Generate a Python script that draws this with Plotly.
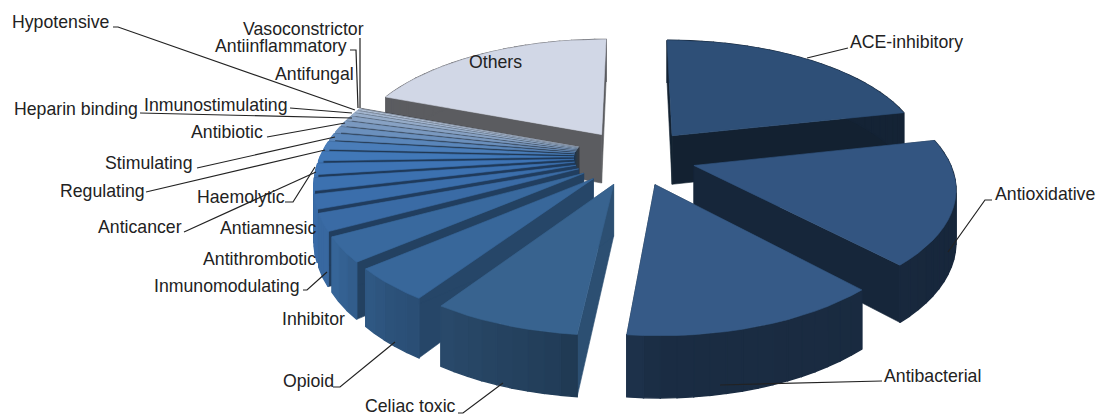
import math
import plotly.graph_objects as go

categories = ["ACE-inhibitory", "Antioxidative", "Antibacterial", "Celiac toxic", "Opioid", "Inhibitor",
              "Inmunomodulating", "Antithrombotic", "Antiamnesic", "Anticancer", "Haemolytic", "Regulating",
              "Stimulating", "Antibiotic", "Heparin binding", "Inmunostimulating", "Hypotensive", "Antifungal",
              "Antiinflammatory", "Vasoconstrictor", "Others"]
values = [21.5, 16.55, 13.5, 7.7, 4.4, 3.3, 2.3, 1.9, 1.7, 1.5, 1.3, 1.1, 0.9, 0.8, 0.7, 0.6, 0.4, 0.3, 0.2, 0.1, 19.1]
top_colors = ["#2E4F77", "#335581", "#365A87", "#38638F", "#38679A", "#39699E", "#3A6BA5", "#3B6EAB", "#3C71B0",
              "#3E74B5", "#4178B8", "#4A7DB9", "#5A86BA", "#6B90BD", "#7A99C0", "#88A2C4", "#96ACC9", "#A3B5CE",
              "#AFBED3", "#BAC6D9", "#D1D7E6"]
wall_shades = [0.42, 0.45, 0.48, 0.8, 0.68, 0.62, 0.58, 0.55, 0.52, 0.5, 0.48, 0.45, 0.42, 0.4, 0.38, 0.36, 0.34, 0.32, 0.3, 0.3, 0.35]

label_left = {"ACE-inhibitory": (850, 42), "Antioxidative": (995, 194), "Antibacterial": (884, 376),
              "Celiac toxic": (365, 406), "Opioid": (283, 381), "Inhibitor": (282, 319),
              "Inmunomodulating": (154, 286), "Antithrombotic": (203, 259), "Antiamnesic": (220, 228),
              "Anticancer": (98, 227), "Haemolytic": (197, 197), "Regulating": (60, 191), "Stimulating": (105, 163),
              "Antibiotic": (191, 132), "Heparin binding": (14, 109), "Inmunostimulating": (144, 105),
              "Hypotensive": (12, 22), "Antifungal": (275, 74), "Antiinflammatory": (215, 46),
              "Vasoconstrictor": (243, 29), "Others": (469, 62)}
leaders = [[(848, 48), (807, 58)], [(992, 200), (985, 200), (948, 252)], [(882, 381), (720, 385)],
           [(458, 413), (463, 413), (503, 383)], [(333, 387), (340, 387), (395, 342)],
           [(303, 290), (307, 290), (327, 272)], [(285, 202), (293, 202), (315, 167)],
           [(184, 232), (316, 172)], [(146, 192), (325, 150)], [(197, 168), (335, 137)], [(267, 137), (345, 123)],
           [(140, 113), (352, 118)], [(290, 108), (352, 113)], [(113, 27), (118, 27), (355, 110)],
           [(350, 50), (356, 50), (358, 108)], [(360, 38), (360, 108)]]

CX, CY, RX, RY, PERSP, DEPTH, EXPLODE = 635, 157, 254, 117, 0.16, 50, 0.24


def project(theta, radius, mid, down):
    x3 = radius * math.sin(theta) + EXPLODE * math.sin(mid)
    y3 = radius * math.cos(theta) + EXPLODE * math.cos(mid)
    p = 1 / (1 + PERSP * y3)
    return CX + RX * x3 * p, CY - RY * y3 * p + DEPTH * down * p


def shade(col, f):
    r, g, b = int(col[1:3], 16), int(col[3:5], 16), int(col[5:7], 16)
    return f"rgb({min(255, int(r * f))},{min(255, int(g * f))},{min(255, int(b * f))})"


def outer_shade(deg):
    stops = [(0, 0.45), (90, 0.45), (180, 0.5), (190, 0.62), (222, 0.8), (240, 0.97), (290, 1.0), (360, 0.4)]
    for (a0, s0), (a1, s1) in zip(stops, stops[1:]):
        if a0 <= deg <= a1:
            return s0 + (s1 - s0) * (deg - a0) / (a1 - a0)
    return 0.5


fig = go.Figure()


def face(points, color, width=0.6):
    xs = [q[0] for q in points] + [points[0][0]]
    ys = [q[1] for q in points] + [points[0][1]]
    fig.add_trace(go.Scatter(x=xs, y=ys, mode="lines", fill="toself", fillcolor=color,
                             line=dict(color=color, width=width), hoverinfo="skip", showlegend=False))


total = sum(values)
slices = []
start = 0.0
for i, v in enumerate(values):
    sweep = v / total * 2 * math.pi
    slices.append((i, start, start + sweep))
    start += sweep

slices.sort(key=lambda s: -math.cos((s[1] + s[2]) / 2))
for i, a0, a1 in slices:
    mid = (a0 + a1) / 2
    col = top_colors[i]
    wall = shade(col, wall_shades[i])
    if categories[i] == "Others":
        wall = "#5B5C60"
    for a in (a0, a1):
        face([project(a, 0, mid, 0), project(a, 1, mid, 0), project(a, 1, mid, 1), project(a, 0, mid, 1)], wall)
    n = max(2, int((a1 - a0) / math.radians(3)))
    arc = [a0 + (a1 - a0) * k / n for k in range(n + 1)]
    for b0, b1 in zip(arc, arc[1:]):
        f = outer_shade(math.degrees((b0 + b1) / 2))
        color = "#5B5C60" if categories[i] == "Others" else shade(col, f)
        face([project(b0, 1, mid, 0), project(b1, 1, mid, 0), project(b1, 1, mid, 1), project(b0, 1, mid, 1)],
             color, 1.4)
    face([project(0, 0, mid, 0)] + [project(b, 1, mid, 0) for b in arc], col)

for path in leaders:
    fig.add_trace(go.Scatter(x=[q[0] for q in path], y=[q[1] for q in path], mode="lines",
                             line=dict(color="#222222", width=1.2), hoverinfo="skip", showlegend=False))

annotations = [dict(x=x, y=y, xref="x", yref="y", text=name, showarrow=False, xanchor="left", yanchor="middle",
                    xshift=-2, font=dict(family="Liberation Sans", size=17.7, color="#222222"))
               for name, (x, y) in label_left.items()]

fig.update_layout(width=1097, height=417, autosize=False, margin=dict(l=0, r=0, t=0, b=0),
                  paper_bgcolor="white", plot_bgcolor="white", annotations=annotations,
                  xaxis=dict(range=[0, 1097], visible=False, fixedrange=True),
                  yaxis=dict(range=[417, 0], visible=False, fixedrange=True))
fig.write_html("out.html", post_script="document.body.style.margin='0';document.body.style.overflow='hidden';",
               config={"displayModeBar": False})
